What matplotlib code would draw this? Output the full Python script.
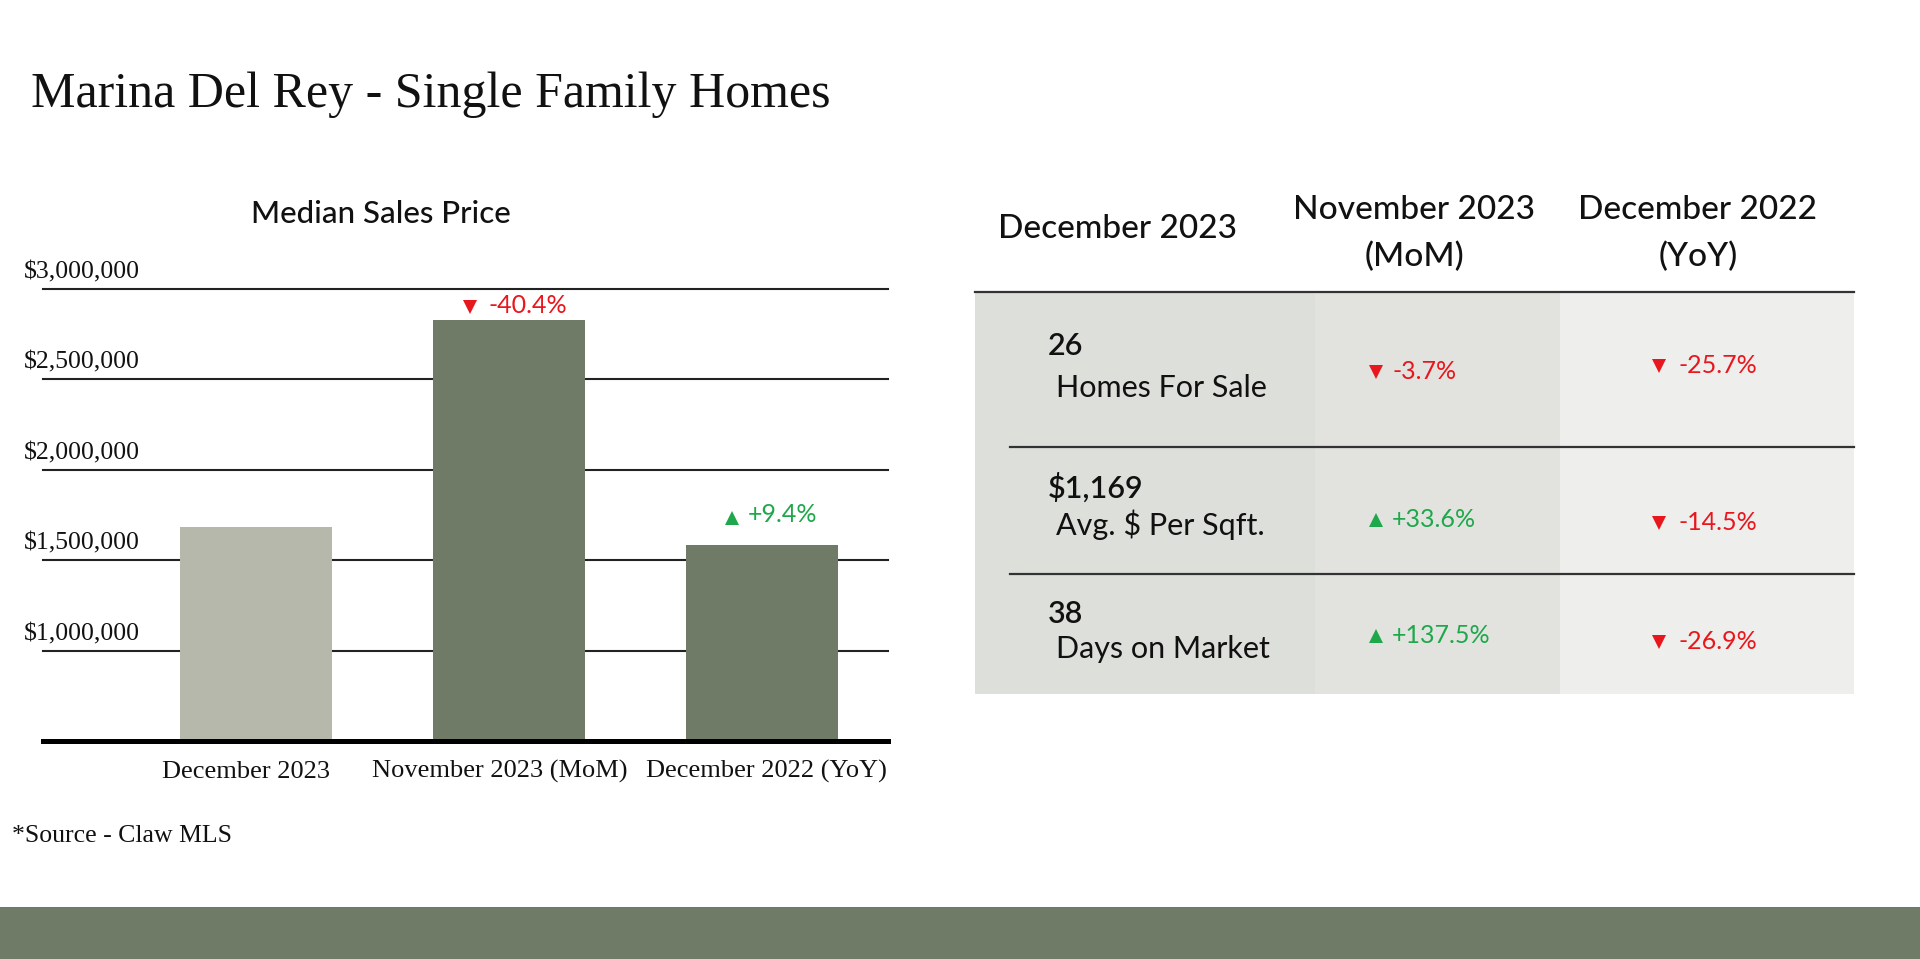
import matplotlib
matplotlib.use("Agg")
import matplotlib.pyplot as plt
from matplotlib.patches import Rectangle
from matplotlib.transforms import offset_copy

# chart data
periods = ["December 2023", "November 2023 (MoM)", "December 2022 (YoY)"]
median_price = [1685000, 2830000, 1582000]
price_change = [None, "-40.4%", "+9.4%"]
y_ticks = [1000000, 1500000, 2000000, 2500000, 3000000]

# table data
table_head = ["December 2023", "November 2023\n(MoM)", "December 2022\n(YoY)"]
metric_values = ["26", "$1,169", "38"]
metric_names = ["Homes For Sale", "Avg. $ Per Sqft.", "Days on Market"]
mom_change = ["-3.7%", "+33.6%", "+137.5%"]
yoy_change = ["-25.7%", "-14.5%", "-26.9%"]

SANS = ["Lato", "DejaVu Sans"]
SERIF = ["Liberation Serif", "DejaVu Serif"]
RED = "#e8161d"
GREEN = "#1ea84b"
OLIVE = "#6f7b66"
W, H = 1920, 959

fig = plt.figure(figsize=(19.2, 9.59), dpi=100)

# overlay axes in pixel coordinates for the page furniture and the table
bg = fig.add_axes([0, 0, 1, 1], zorder=0)
bg.set_xlim(0, W)
bg.set_ylim(H, 0)
bg.axis("off")

bg.text(31, 107, "Marina Del Rey - Single Family Homes", fontsize=36,
        family=SERIF, va="baseline", ha="left", color="#111")
bg.text(381, 223, "Median Sales Price", fontsize=22.5, family=SANS,
        fontweight="medium", va="baseline", ha="center", color="#111")
bg.text(12, 842, "*Source - Claw MLS", fontsize=18.5, family=SERIF,
        va="baseline", ha="left", color="#111")
bg.add_patch(Rectangle((0, 907), W, H - 907, color=OLIVE, lw=0))

# table background columns
col_edges = [975, 1315, 1560, 1854]
col_colors = ["#dddfdb", "#e2e3df", "#eeeeec"]
for i in range(3):
    bg.add_patch(Rectangle((col_edges[i], 292), col_edges[i + 1] - col_edges[i],
                           694 - 292, color=col_colors[i], lw=0))
bg.plot([975, 1854], [292, 292], color="#333", lw=1.6)
for yy in [447, 574]:
    bg.plot([1010, 1854], [yy, yy], color="#333", lw=1.6)

# headers
HEAD = dict(fontsize=24, family=SANS, fontweight="medium", ha="center",
            va="baseline", color="#111")
bg.text(1117, 238, table_head[0], **HEAD)
for cx, txt in zip([1414, 1698], table_head[1:]):
    top, bottom = txt.split("\n")
    bg.text(cx, 219, top, **HEAD)
    bg.text(cx, 266, bottom, **HEAD)

val_base = [355, 498, 623]
name_base = [397, 535, 658]
mom_base = [379, 527, 643]
yoy_base = [373, 530, 649]


def change_cell(tri_x, text_x, base, txt):
    up = txt.startswith("+")
    col = GREEN if up else RED
    bg.plot(tri_x, base - 7, marker="^" if up else "v", color=col, ms=9.5, mew=0)
    bg.text(text_x, base, txt, fontsize=18, family=SANS, ha="left",
            va="baseline", color=col)


for r in range(3):
    bg.text(1048, val_base[r], metric_values[r], fontsize=22, family=SANS,
            fontweight="semibold", ha="left", va="baseline", color="#111")
    bg.text(1056, name_base[r], metric_names[r], fontsize=22, family=SANS,
            ha="left", va="baseline", color="#111")
    change_cell(1376, 1392, mom_base[r], mom_change[r])
    change_cell(1659, 1679, yoy_base[r], yoy_change[r])

# bar chart
ax = fig.add_axes([43 / W, (H - 741) / H, 845 / W, (741 - 289) / H], zorder=1)
ax.patch.set_alpha(0)
x = list(range(len(periods)))
bar_colors = ["#b6b8ab", OLIVE, OLIVE]
for v in y_ticks:
    ax.axhline(v, color="#222", lw=1.5, zorder=1, clip_on=False)
ax.bar(x, median_price, width=0.6, color=bar_colors, zorder=2)
ax.axhline(500000, color="#000", lw=3.6, zorder=3, clip_on=False)
ax.set_xlim(-0.84, 2.496)
ax.set_ylim(500000, 3000000)
for s in ax.spines.values():
    s.set_visible(False)
ax.set_yticks([])
ax.set_xticks([])

# category labels, nudged a little as in the original layout
lab_dx = [-7, -7, 3]
for i, lab in enumerate(periods):
    ax.annotate(lab, xy=(i, 0), xycoords=("data", "axes fraction"),
                xytext=(lab_dx[i], -26.5), textcoords="offset points",
                fontsize=19, family=SERIF, ha="center", va="baseline", color="#111")

for v in y_ticks:
    ax.annotate(f"${v:,.0f}", xy=(-19 / 845, v), xycoords=("axes fraction", "data"),
                xytext=(0, 12), textcoords="offset points", fontsize=18.5,
                family=SERIF, ha="left", va="center", color="#111")

# change labels above bars (pixel offsets from bar top)
tri_dx = [0, -39, -30]
tri_dy = [0, 13, 27]
txt_dx = [0, -21, -15]
txt_dy = [0, 7, 23]
for i, lab in enumerate(price_change):
    if lab is None:
        continue
    up = lab.startswith("+")
    col = GREEN if up else RED
    t1 = offset_copy(ax.transData, fig, x=tri_dx[i], y=tri_dy[i], units="dots")
    ax.plot([i], [median_price[i]], marker="^" if up else "v", ms=9.5, mew=0,
            color=col, transform=t1, clip_on=False, zorder=4)
    t2 = offset_copy(ax.transData, fig, x=txt_dx[i], y=txt_dy[i], units="dots")
    ax.text(i, median_price[i], lab, transform=t2, fontsize=18, family=SANS,
            ha="left", va="baseline", color=col, clip_on=False)

fig.savefig("out.png", dpi=100, facecolor="white")
